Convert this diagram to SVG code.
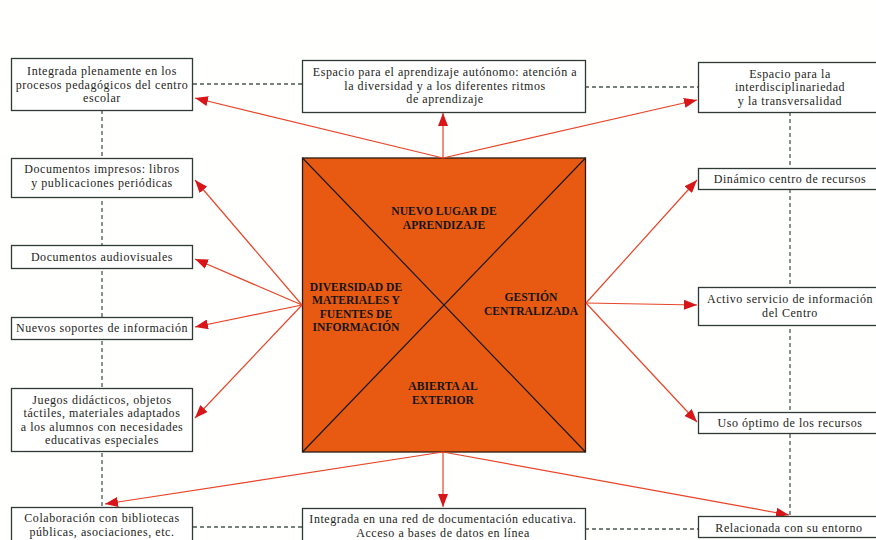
<svg xmlns="http://www.w3.org/2000/svg" width="876" height="540" viewBox="0 0 876 540">
<defs>
<marker id="ah" markerUnits="userSpaceOnUse" markerWidth="14" markerHeight="10" refX="13" refY="5" orient="auto">
<path d="M0,0 L13,5 L0,10 Z" fill="#d8161a"/>
</marker>
<style>
.box{fill:#fff;stroke:#2f3a35;stroke-width:1.3}
.t{font-family:"Liberation Serif","DejaVu Serif",serif;font-size:12px;letter-spacing:0.55px;fill:#1e2420;text-anchor:middle}
.c{font-family:"Liberation Serif","DejaVu Serif",serif;font-size:11.6px;font-weight:bold;fill:#151515;text-anchor:middle}
.dash{stroke:#4b5a55;stroke-width:1.3;stroke-dasharray:4 3;fill:none}
.arr{stroke:#e8452a;stroke-width:1.2;fill:none;marker-end:url(#ah)}
</style>
</defs>
<rect width="876" height="540" fill="#fffffd"/>
<g id="dashes">
<line class="dash" x1="102" y1="110" x2="102" y2="507"/>
<line class="dash" x1="790" y1="112" x2="790" y2="516"/>
<line class="dash" x1="193" y1="84" x2="303" y2="84"/>
<line class="dash" x1="585" y1="87" x2="698" y2="87"/>
<line class="dash" x1="193" y1="527" x2="302" y2="527"/>
<line class="dash" x1="585" y1="529" x2="698" y2="529"/>
</g>
<g id="center">
<rect x="302.5" y="158" width="283" height="294" fill="#e85a12" stroke="#2a1a10" stroke-width="1.3"/>
<line x1="302.5" y1="158" x2="585.5" y2="452" stroke="#1a1a1a" stroke-width="1.2"/>
<line x1="585.5" y1="158" x2="302.5" y2="452" stroke="#1a1a1a" stroke-width="1.2"/>
<text class="c" x="444" y="215">NUEVO LUGAR DE</text>
<text class="c" x="444" y="228.5">APRENDIZAJE</text>
<text class="c" x="356" y="290.5">DIVERSIDAD DE</text>
<text class="c" x="356" y="304">MATERIALES Y</text>
<text class="c" x="356" y="317.5">FUENTES DE</text>
<text class="c" x="356" y="331">INFORMACIÓN</text>
<text class="c" x="531" y="301">GESTIÓN</text>
<text class="c" x="531" y="315">CENTRALIZADA</text>
<text class="c" x="443" y="390">ABIERTA AL</text>
<text class="c" x="443" y="403.5">EXTERIOR</text>
</g>
<g id="connectors">
<line class="arr" x1="443" y1="158" x2="195" y2="98"/>
<line class="arr" x1="443" y1="158" x2="443" y2="113"/>
<line class="arr" x1="443" y1="158" x2="697" y2="100"/>
<line class="arr" x1="302" y1="305" x2="195" y2="180"/>
<line class="arr" x1="302" y1="305" x2="195" y2="259"/>
<line class="arr" x1="302" y1="305" x2="195" y2="327"/>
<line class="arr" x1="302" y1="305" x2="195" y2="418"/>
<line class="arr" x1="586" y1="303" x2="697" y2="180"/>
<line class="arr" x1="586" y1="303" x2="697" y2="305"/>
<line class="arr" x1="586" y1="303" x2="697" y2="422"/>
<line class="arr" x1="443" y1="452" x2="105" y2="504"/>
<line class="arr" x1="443" y1="452" x2="443" y2="507"/>
<line class="arr" x1="443" y1="452" x2="789" y2="515"/>
</g>
<g id="n-integrada">
<rect class="box" x="11.5" y="58.5" width="181" height="52"/>
<text class="t" x="102" y="75">Integrada plenamente en los</text>
<text class="t" x="102" y="88.5">procesos pedagógicos del centro</text>
<text class="t" x="102" y="102">escolar</text>
</g>
<g id="n-espacio">
<rect class="box" x="302.5" y="60.5" width="283" height="52"/>
<text class="t" x="445" y="76">Espacio para el aprendizaje autónomo: atención a</text>
<text class="t" x="445" y="89.5">la diversidad y a los diferentes ritmos</text>
<text class="t" x="445" y="103">de aprendizaje</text>
</g>
<g id="n-interdisc">
<rect class="box" x="698.5" y="62.5" width="190" height="50"/>
<text class="t" x="790" y="77.5">Espacio para la</text>
<text class="t" x="790" y="91">interdisciplinariedad</text>
<text class="t" x="790" y="104.5">y la transversalidad</text>
</g>
<g id="n-impresos">
<rect class="box" x="11.5" y="158.5" width="181" height="39"/>
<text class="t" x="102" y="173">Documentos impresos: libros</text>
<text class="t" x="102" y="187">y publicaciones periódicas</text>
</g>
<g id="n-audiovisuales">
<rect class="box" x="11.5" y="245.5" width="181" height="23"/>
<text class="t" x="102" y="261">Documentos audiovisuales</text>
</g>
<g id="n-soportes">
<rect class="box" x="11.5" y="317.5" width="181" height="22"/>
<text class="t" x="102" y="332">Nuevos soportes de información</text>
</g>
<g id="n-juegos">
<rect class="box" x="11.5" y="388.5" width="181" height="63"/>
<text class="t" x="102" y="403.5">Juegos didácticos, objetos</text>
<text class="t" x="102" y="417">táctiles, materiales adaptados</text>
<text class="t" x="102" y="430.5">a los alumnos con necesidades</text>
<text class="t" x="102" y="444">educativas especiales</text>
</g>
<g id="n-dinamico">
<rect class="box" x="698.5" y="168.5" width="190" height="21"/>
<text class="t" x="790" y="183">Dinámico centro de recursos</text>
</g>
<g id="n-activo">
<rect class="box" x="698.5" y="287.5" width="190" height="38"/>
<text class="t" x="790" y="303">Activo servicio de información</text>
<text class="t" x="790" y="317">del Centro</text>
</g>
<g id="n-uso">
<rect class="box" x="698.5" y="412.5" width="190" height="21"/>
<text class="t" x="790" y="427">Uso óptimo de los recursos</text>
</g>
<g id="n-colaboracion">
<rect class="box" x="11.5" y="507.5" width="181" height="40"/>
<text class="t" x="102" y="521.5">Colaboración con bibliotecas</text>
<text class="t" x="102" y="535.5">públicas, asociaciones, etc.</text>
</g>
<g id="n-red">
<rect class="box" x="302.5" y="508.5" width="283" height="40"/>
<text class="t" x="443" y="522.5">Integrada en una red de documentación educativa.</text>
<text class="t" x="443" y="536.5">Acceso a bases de datos en línea</text>
</g>
<g id="n-relacionada">
<rect class="box" x="698.5" y="516.5" width="190" height="21"/>
<text class="t" x="789" y="532">Relacionada con su entorno</text>
</g>
</svg>
